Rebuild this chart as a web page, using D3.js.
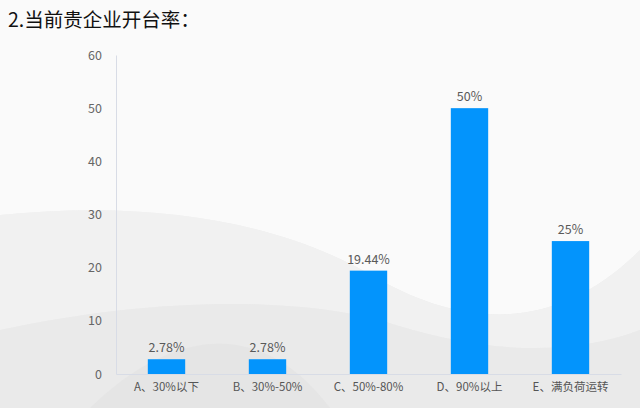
<!DOCTYPE html>
<html>
<head>
<meta charset="utf-8">
<script src="https://cdn.jsdelivr.net/npm/d3@7"></script>
<style>
  html, body { margin: 0; padding: 0; background: #f2f2f2; }
  svg { display: block; font-family: "Noto Sans CJK SC", "Noto Sans", sans-serif; }
</style>
</head>
<body>
<div id="chart"></div>
<script>
const categories = ['A、30%以下', 'B、30%-50%', 'C、50%-80%', 'D、90%以上', 'E、满负荷运转'];
const values = [2.78, 2.78, 19.44, 50, 25];
const valueLabels = ['2.78%', '2.78%', '19.44%', '50%', '25%'];
const yTicks = [0, 10, 20, 30, 40, 50, 60];
const title = '2.当前贵企业开台率：';

const W = 640;
const H = 408;
const margin = { t: 55, r: 20, b: 34, l: 116 };

const svg = d3.select('#chart').append('svg')
  .attr('width', W)
  .attr('height', H);

// background
const defs = svg.append('defs');
const bg = defs.append('linearGradient')
  .attr('id', 'bg')
  .attr('x1', '0%').attr('y1', '0%')
  .attr('x2', '0%').attr('y2', '100%');
bg.append('stop').attr('offset', 0).attr('stop-color', '#f7f7f7');
bg.append('stop').attr('offset', 1).attr('stop-color', '#e9e9e9');

svg.append('rect')
  .attr('width', W)
  .attr('height', H)
  .attr('fill', 'url(#bg)');

// soft waves behind the plot
svg.append('path')
  .attr('d', 'M0,0 L640,0 L640,250 C560,330 470,330 380,280 C280,220 150,200 0,215 Z')
  .attr('fill', '#fafafa');
svg.append('path')
  .attr('d', 'M0,215 C150,200 280,220 380,280 C470,330 560,330 640,250 L640,330 C560,360 470,350 380,320 C280,295 140,300 0,330 Z')
  .attr('fill', '#f1f1f1');
svg.append('path')
  .attr('d', 'M0,330 C140,300 280,295 380,320 C470,350 560,360 640,330 L640,408 L0,408 Z')
  .attr('fill', '#eaeaea');
svg.append('path')
  .attr('d', 'M90,408 C170,330 260,315 330,408 Z')
  .attr('fill', '#e2e2e2')
  .attr('opacity', 0.7);

// title
svg.append('text')
  .attr('x', 8)
  .attr('y', 27)
  .attr('font-size', 19.5)
  .attr('font-weight', 400)
  .attr('fill', '#111')
  .text(title);

const innerW = W - margin.l - margin.r;
const innerH = H - margin.t - margin.b;

const x = d3.scaleBand()
  .domain(categories)
  .range([0, innerW + 1])
  .paddingInner(0.63)
  .paddingOuter(0.315);

const y = d3.scaleLinear()
  .domain([0, 60])
  .range([innerH, 0]);

const g = svg.append('g')
  .attr('transform', `translate(${margin.l}, ${margin.t})`);

// y axis
const yAxis = g.append('g')
  .call(d3.axisLeft(y).tickValues(yTicks).tickSize(0).tickPadding(14));
yAxis.select('.domain').attr('stroke', '#d8dce6');
yAxis.selectAll('text')
  .attr('font-size', 12.5)
  .attr('fill', '#666')
  .attr('font-family', '"Noto Sans CJK SC", sans-serif');

// x axis
const xAxis = g.append('g')
  .attr('transform', `translate(0, ${innerH})`)
  .call(d3.axisBottom(x).tickSize(0).tickPadding(9));
xAxis.select('.domain').attr('stroke', '#d8dce6');
xAxis.selectAll('text')
  .attr('font-size', 11.5)
  .attr('fill', '#555')
  .attr('font-family', '"Noto Sans CJK SC", sans-serif');

// bars
g.selectAll('.bar')
  .data(values)
  .enter().append('rect')
  .attr('class', 'bar')
  .attr('x', (d, i) => x(categories[i]))
  .attr('y', d => y(d))
  .attr('width', x.bandwidth())
  .attr('height', d => innerH - y(d))
  .attr('fill', '#0394fc');

// value labels
g.selectAll('.val')
  .data(values)
  .enter().append('text')
  .attr('class', 'val')
  .attr('x', (d, i) => x(categories[i]) + x.bandwidth() / 2)
  .attr('y', d => y(d) - 7)
  .attr('text-anchor', 'middle')
  .attr('font-size', 12.5)
  .attr('fill', '#595959')
  .text((d, i) => valueLabels[i]);
</script>
</body>
</html>
